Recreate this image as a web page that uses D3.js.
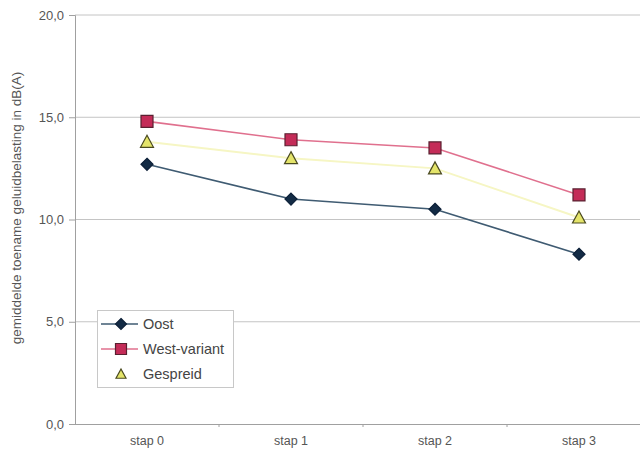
<!DOCTYPE html>
<html>
<head>
<meta charset="utf-8">
<script src="https://cdn.jsdelivr.net/npm/d3@7"></script>
<style>
  html, body { margin: 0; padding: 0; background: #fff; }
  svg { display: block; font-family: "Liberation Sans", Arial, sans-serif; }
</style>
</head>
<body>
<svg id="chart" width="640" height="452"></svg>
<script>
// Categories and series
const categories = ["stap 0", "stap 1", "stap 2", "stap 3"];
const oost = [12.7, 11.0, 10.5, 8.3];
const westVariant = [14.8, 13.9, 13.5, 11.2];
const gespreid = [13.8, 13.0, 12.5, 10.1];
const yTicks = [0, 5, 10, 15, 20];
const yTitle = "gemiddelde toename geluidbelasting in dB(A)";

const series = [
  { name: "Oost", values: oost, line: "#3f5b72", fill: "#132b45", stroke: "#0d2038", shape: "diamond" },
  { name: "West-variant", values: westVariant, line: "#e0708e", fill: "#c42c58", stroke: "#5a2030", shape: "square" },
  { name: "Gespreid", values: gespreid, line: "#f6f6c4", fill: "#e4e46a", stroke: "#4a4a20", shape: "triangle" }
];

const svg = d3.select("#chart");
const plot = { left: 75, right: 651, top: 15, bottom: 424 };

const x = d3.scaleBand().domain(categories).range([plot.left, plot.right]);
const y = d3.scaleLinear().domain([0, 20]).range([plot.bottom, plot.top]);

// Horizontal gridlines
svg.append("g")
  .selectAll("line")
  .data(yTicks.filter(d => d > 0))
  .join("line")
  .attr("x1", plot.left).attr("x2", plot.right)
  .attr("y1", d => y(d)).attr("y2", d => y(d))
  .attr("stroke", "#c4c4c4").attr("stroke-width", 1);

// Y axis
const yAxis = svg.append("g")
  .attr("transform", `translate(${plot.left},0)`)
  .call(d3.axisLeft(y).tickValues(yTicks).tickSize(6).tickPadding(5)
    .tickFormat(d => d3.format(".1f")(d).replace(".", ",")));
yAxis.select(".domain").attr("stroke", "#a0a0a0");
yAxis.selectAll(".tick line").attr("stroke", "#a0a0a0");
yAxis.selectAll("text").attr("fill", "#555").attr("font-size", 13)
  .attr("font-family", "Liberation Sans, Arial, sans-serif");

// X axis
const xAxis = svg.append("g")
  .attr("transform", `translate(0,${plot.bottom})`)
  .call(d3.axisBottom(x).tickSize(0).tickPadding(12));
xAxis.select(".domain").attr("stroke", "#a0a0a0").attr("d", `M${plot.left},0.5H${plot.right}`);
xAxis.selectAll("text").attr("fill", "#555").attr("font-size", 12.5)
  .attr("font-family", "Liberation Sans, Arial, sans-serif");
// Category boundary ticks
svg.append("g")
  .selectAll("line")
  .data(categories.slice(1))
  .join("line")
  .attr("x1", d => x(d)).attr("x2", d => x(d))
  .attr("y1", plot.bottom).attr("y2", plot.bottom + 3)
  .attr("stroke", "#a0a0a0");

// Y axis title
svg.append("text")
  .attr("transform", "translate(21,208) rotate(-90)")
  .attr("text-anchor", "middle")
  .attr("font-size", 13.5)
  .attr("fill", "#555")
  .text(yTitle);

// Marker shapes
function symbolPath(shape, size) {
  const s = size;
  if (shape === "diamond") return `M0,${-s}L${s},0L0,${s}L${-s},0Z`;
  if (shape === "square") return `M${-s},${-s}H${s}V${s}H${-s}Z`;
  return `M0,${-s}L${s},${s * 0.85}L${-s},${s * 0.85}Z`;
}
const markerSize = { diamond: 6, square: 6, triangle: 6.5 };

const cx = d => x(d) + x.bandwidth() / 2;
const line = d3.line().x((v, i) => cx(categories[i])).y(v => y(v));

// Lines first, markers on top
series.forEach(s => {
  svg.append("path")
    .datum(s.values)
    .attr("fill", "none")
    .attr("stroke", s.line)
    .attr("stroke-width", s.shape === "triangle" ? 2 : 1.6)
    .attr("d", line);
});
series.forEach(s => {
  svg.append("g")
    .selectAll("path")
    .data(s.values)
    .join("path")
    .attr("transform", (v, i) => `translate(${cx(categories[i])},${y(v)})`)
    .attr("d", symbolPath(s.shape, markerSize[s.shape]))
    .attr("fill", s.fill)
    .attr("stroke", s.stroke)
    .attr("stroke-width", 1.2);
});

// Legend
const lg = svg.append("g").attr("transform", "translate(97,310)");
lg.append("rect")
  .attr("x", 0.5).attr("y", 0.5).attr("width", 136).attr("height", 77)
  .attr("fill", "#fff").attr("stroke", "#c8c8c8");
series.forEach((s, i) => {
  const row = lg.append("g").attr("transform", `translate(0,${14 + i * 25})`);
  if (s.shape !== "triangle") {
    row.append("line")
      .attr("x1", 4).attr("x2", 41).attr("y1", 0).attr("y2", 0)
      .attr("stroke", s.line).attr("stroke-width", 1.6);
  }
  row.append("path")
    .attr("transform", "translate(24,0)")
    .attr("d", symbolPath(s.shape, s.shape === "triangle" ? 5 : 5.5))
    .attr("fill", s.fill).attr("stroke", s.stroke).attr("stroke-width", 1.2);
  row.append("text")
    .attr("x", 46).attr("y", 0).attr("dy", "0.36em")
    .attr("font-size", 14.5).attr("fill", "#444")
    .text(s.name);
});
</script>
</body>
</html>
